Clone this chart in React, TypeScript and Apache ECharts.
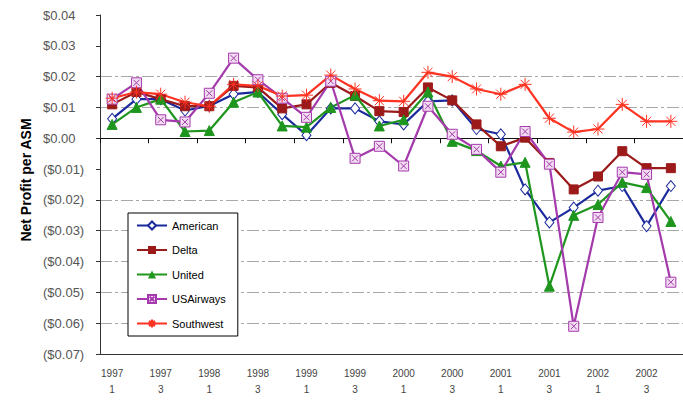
import React, { useEffect, useRef } from "react";
import * as echarts from "echarts";

const categories = [
  "1997\n1", "1997\n2", "1997\n3", "1997\n4",
  "1998\n1", "1998\n2", "1998\n3", "1998\n4",
  "1999\n1", "1999\n2", "1999\n3", "1999\n4",
  "2000\n1", "2000\n2", "2000\n3", "2000\n4",
  "2001\n1", "2001\n2", "2001\n3", "2001\n4",
  "2002\n1", "2002\n2", "2002\n3", "2002\n4",
];

const american = [0.0063, 0.0127, 0.0127, 0.0090, 0.0105, 0.0143, 0.0150, 0.0078, 0.0010, 0.0097, 0.0097, 0.0055,
  0.0045, 0.0120, 0.0123, 0.0030, 0.0013, -0.0166, -0.0273, -0.0225, -0.0170, -0.0155, -0.0285, -0.0155];
const delta = [0.0110, 0.0150, 0.0127, 0.0104, 0.0104, 0.0170, 0.0165, 0.0097, 0.0110, 0.0180, 0.0137, 0.0088,
  0.0085, 0.0165, 0.0123, 0.0045, -0.0026, 0.0002, -0.0080, -0.0166, -0.0124, -0.0042, -0.0097, -0.0097];
const united = [0.0045, 0.0100, 0.0127, 0.0022, 0.0025, 0.0117, 0.0150, 0.0040, 0.0036, 0.0100, 0.0140, 0.0040,
  0.0060, 0.0150, -0.0010, -0.0040, -0.0090, -0.0078, -0.0480, -0.0250, -0.0215, -0.0143, -0.0160, -0.0270];
const usAirways = [0.0127, 0.0180, 0.0060, 0.0053, 0.0146, 0.0260, 0.0190, 0.0130, 0.0068, 0.0185, -0.0065, -0.0026,
  -0.0090, 0.0104, 0.0013, -0.0036, -0.0110, 0.0022, -0.0084, -0.0610, -0.0257, -0.0110, -0.0117, -0.0467];
const southwest = [0.0130, 0.0150, 0.0143, 0.0117, 0.0104, 0.0175, 0.0170, 0.0137, 0.0140, 0.0205, 0.0160, 0.0122,
  0.0120, 0.0214, 0.0200, 0.0160, 0.0143, 0.0175, 0.0065, 0.0020, 0.0030, 0.0110, 0.0055, 0.0055];

const seriesNames = ["American", "Delta", "United", "USAirways", "Southwest"];

const GRID = "#a8a8a8";
const T = "transparent";

function fmt(v: number) {
  const r = Math.round(v * 100) / 100;
  if (r < 0) return "($" + Math.abs(r).toFixed(2) + ")";
  return "$" + Math.abs(r).toFixed(2);
}

export default function App() {
  const ref = useRef<HTMLDivElement>(null);
  useEffect(() => {
    if (!ref.current) return;
    const chart = echarts.init(ref.current, null, { renderer: "svg" });
    const font = "Arial, 'Liberation Sans', sans-serif";
    const mk = (name: string, data: number[], color: string, symbol: string, size: any, item: any) => ({
      name,
      type: "line",
      data,
      symbol,
      symbolSize: size,
      showSymbol: true,
      lineStyle: { color, width: 2.2 },
      itemStyle: item,
      emphasis: { disabled: true },
    });
    chart.setOption({
      animation: false,
      textStyle: { fontFamily: font },
      grid: { left: 100, right: 0, top: 15, bottom: 48, containLabel: false },
      legend: {
        data: seriesNames,
        orient: "vertical",
        left: 128,
        top: 213,
        padding: [7, 12, 7, 8],
        itemWidth: 30,
        itemHeight: 10,
        itemGap: 13.5,
        backgroundColor: "#fff",
        borderColor: "#000",
        borderWidth: 1,
        textStyle: { fontSize: 11, color: "#000", fontFamily: font },
      },
      xAxis: [
        {
          type: "category",
          data: categories,
          position: "bottom",
          boundaryGap: true,
          axisLine: { onZero: false, lineStyle: { color: "#333", width: 1 } },
          axisTick: { show: false },
          axisLabel: { interval: 1, fontSize: 10, lineHeight: 16, margin: 11, color: "#444", fontFamily: font },
          splitLine: { show: false },
        },
        {
          type: "category",
          data: categories,
          position: "bottom",
          boundaryGap: true,
          axisLine: { onZero: true, lineStyle: { color: "#111", width: 1 } },
          axisTick: { show: true, length: 5, lineStyle: { color: "#111" } },
          axisLabel: { show: false },
          splitLine: { show: false },
        },
      ],
      yAxis: {
        type: "value",
        min: -0.07,
        max: 0.04,
        interval: 0.01,
        axisLine: { show: true, lineStyle: { color: "#333" } },
        axisTick: { show: true, length: 4, lineStyle: { color: "#333" } },
        axisLabel: {
          formatter: fmt,
          align: "left",
          margin: 57,
          fontSize: 13,
          color: "#555",
          fontFamily: font,
        },
        splitLine: {
          show: true,
          lineStyle: {
            color: [T, GRID, GRID, GRID, GRID, GRID, T, T, GRID, GRID, T, T],
            type: [12, 3, 3, 3],
            width: 1,
          },
        },
      },
      graphic: [
        {
          type: "text",
          x: 26,
          y: 180,
          rotation: Math.PI / 2,
          style: {
            text: "Net Profit per ASM",
            font: "bold 14px Arial, 'Liberation Sans', sans-serif",
            fill: "#000",
            textAlign: "center",
            textVerticalAlign: "middle",
          },
        },
      ],
      series: [
        mk("American", american, "#1a2a9c", "diamond", [9, 11], { color: "#fff", borderColor: "#1a2a9c", borderWidth: 1 }),
        mk("Delta", delta, "#9c1a1a", "rect", 9, { color: "#9c1a1a", borderColor: "#9c1a1a" }),
        mk("United", united, "#1e961e", "triangle", 10, { color: "#1e961e", borderColor: "#1e961e" }),
        mk("USAirways", usAirways, "#a43aac", "path://M0,0H10V10H0ZM2,2L8,8M8,2L2,8", 10, {
          color: "#f2dcf2",
          borderColor: "#a43aac",
          borderWidth: 1,
        }),
        mk("Southwest", southwest, "#ff3322", "path://M5,0V10M0,5H10M1.5,1.5L8.5,8.5M8.5,1.5L1.5,8.5", 13, {
          color: "transparent",
          borderColor: "#ff3322",
          borderWidth: 1,
        }),
      ],
    });
    return () => chart.dispose();
  }, []);
  return <div ref={ref} style={{ width: 683, height: 402, position: "absolute", left: 0, top: 0 }} />;
}
